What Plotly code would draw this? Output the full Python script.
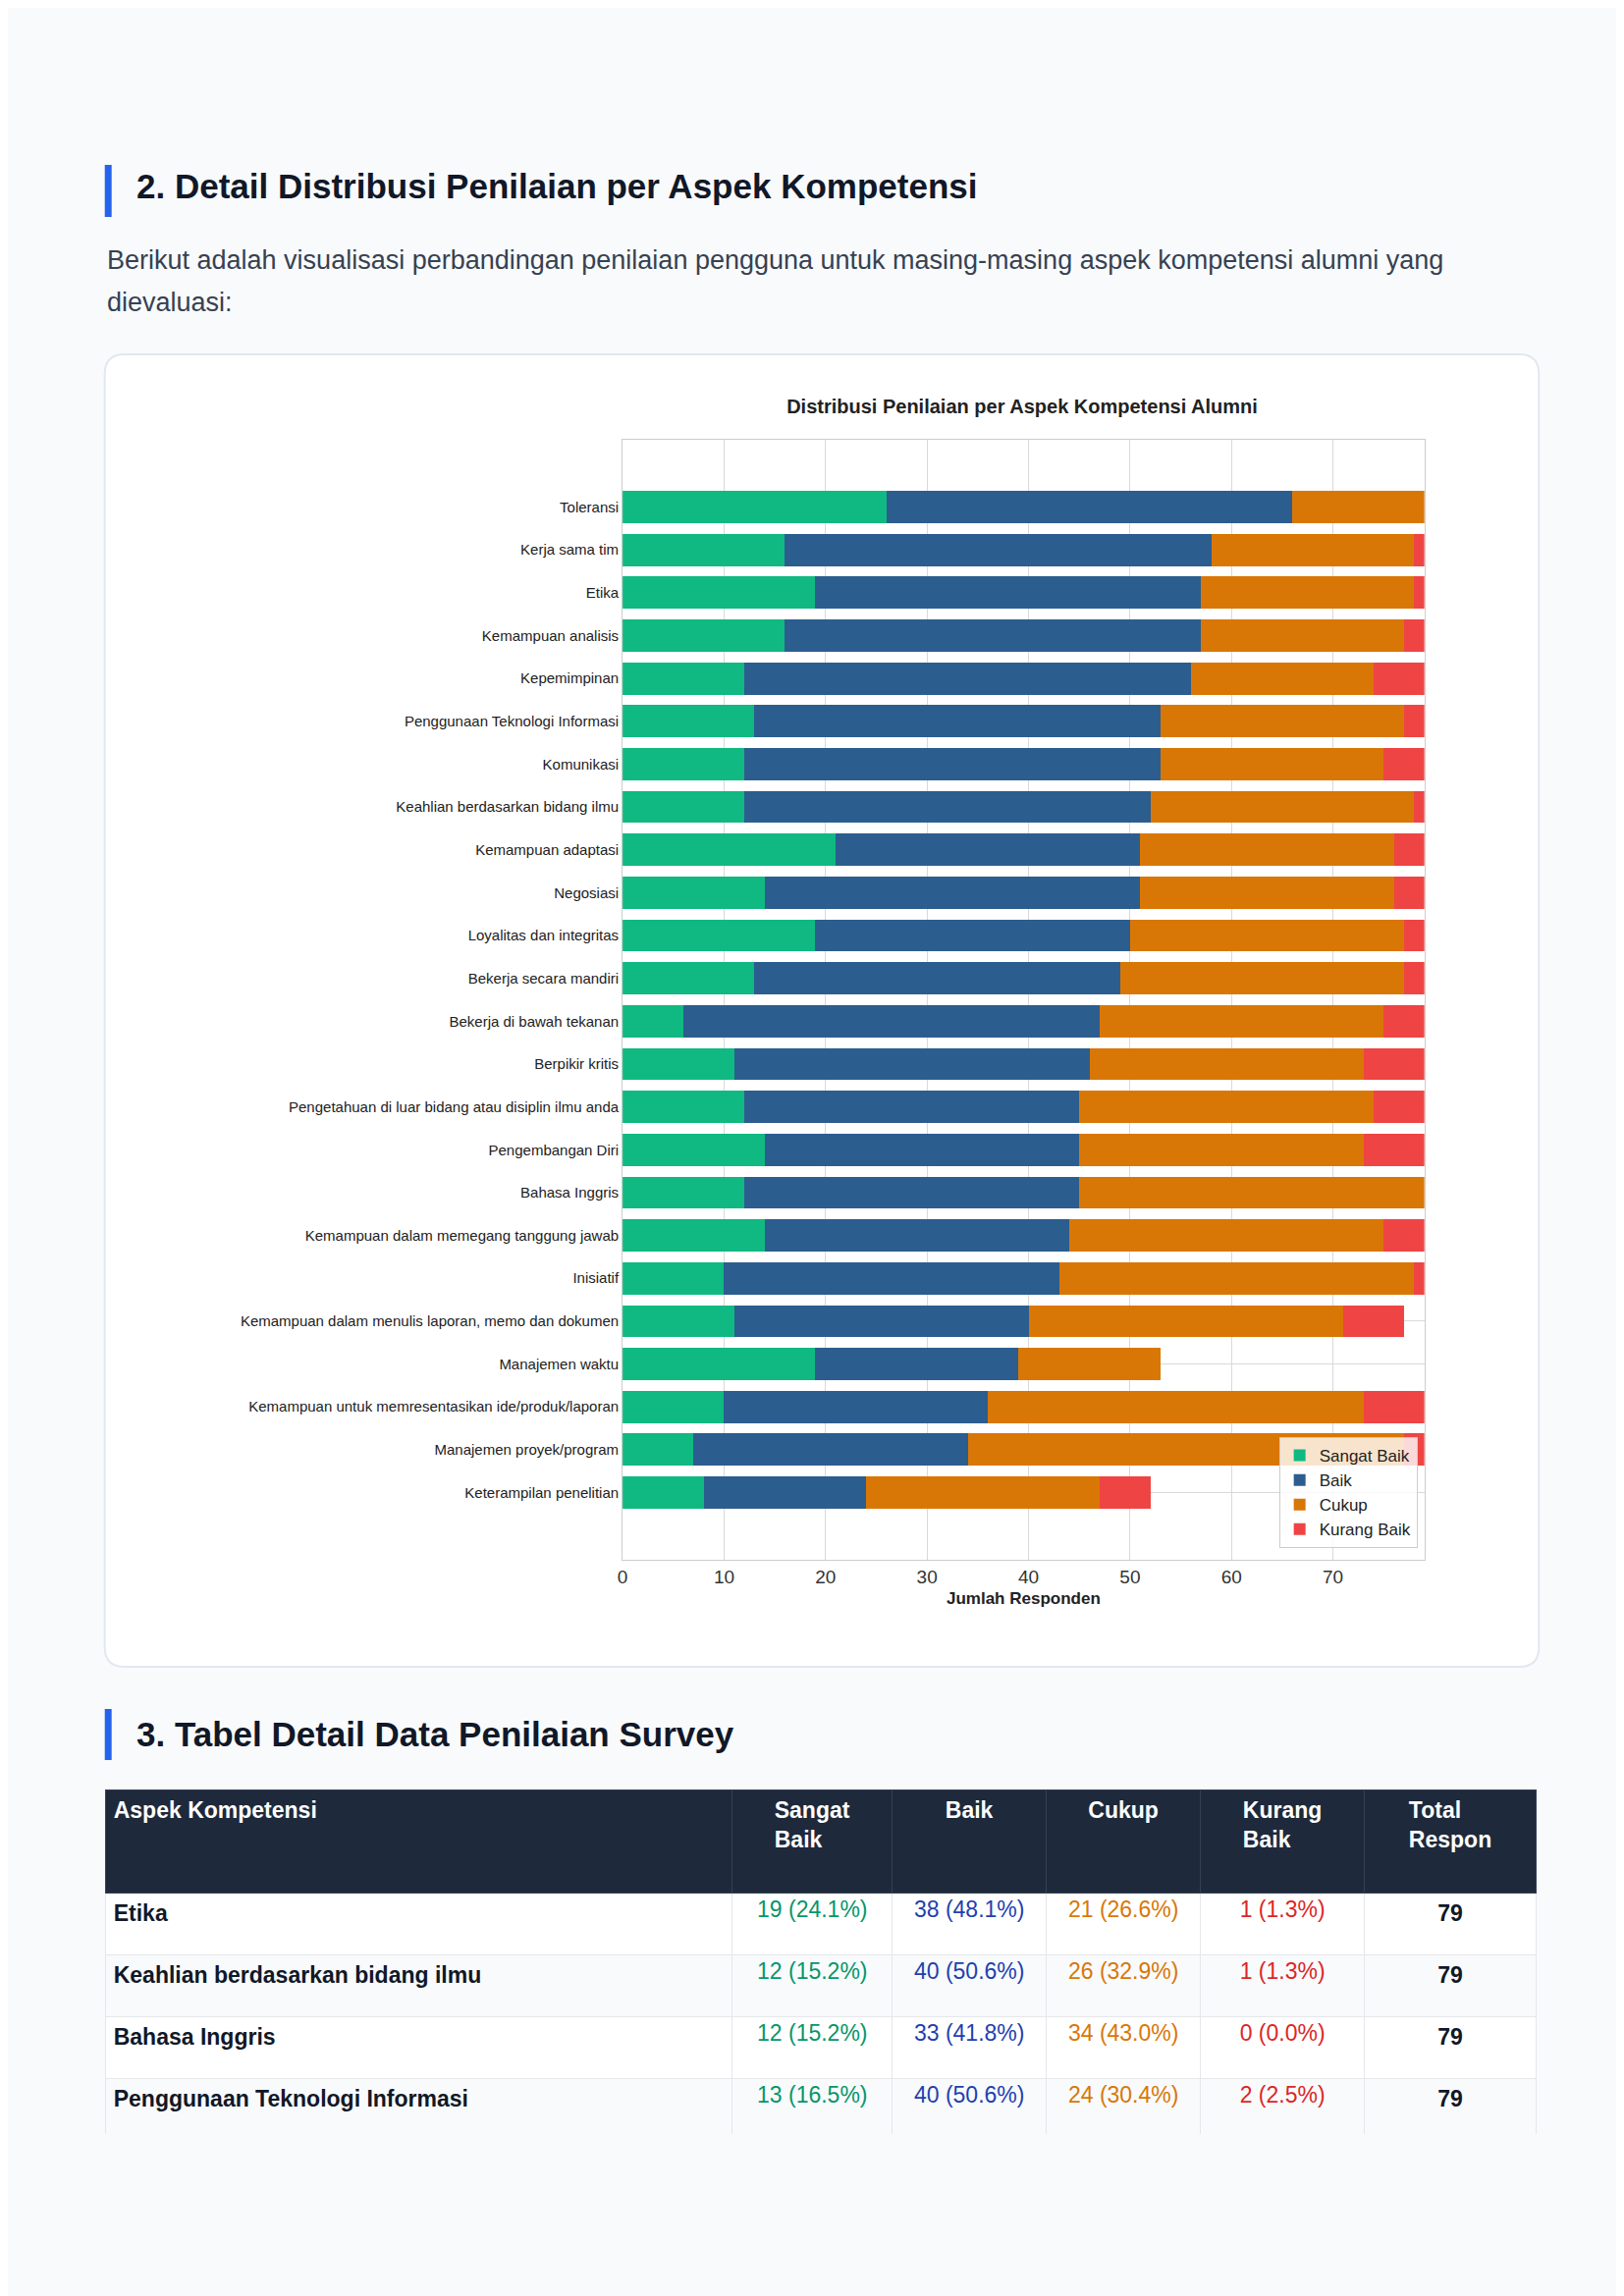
import plotly.graph_objects as go

W, H = 1654, 2339
categories = ["Toleransi", "Kerja sama tim", "Etika", "Kemampuan analisis", "Kepemimpinan",
    "Penggunaan Teknologi Informasi", "Komunikasi", "Keahlian berdasarkan bidang ilmu",
    "Kemampuan adaptasi", "Negosiasi", "Loyalitas dan integritas", "Bekerja secara mandiri",
    "Bekerja di bawah tekanan", "Berpikir kritis", "Pengetahuan di luar bidang atau disiplin ilmu anda",
    "Pengembangan Diri", "Bahasa Inggris", "Kemampuan dalam memegang tanggung jawab", "Inisiatif",
    "Kemampuan dalam menulis laporan, memo dan dokumen", "Manajemen waktu",
    "Kemampuan untuk memresentasikan ide/produk/laporan", "Manajemen proyek/program",
    "Keterampilan penelitian"]
sangat_baik = [26, 16, 19, 16, 12, 13, 12, 12, 21, 14, 19, 13, 6, 11, 12, 14, 12, 14, 10, 11, 19, 10, 7, 8]
baik = [40, 42, 38, 41, 44, 40, 41, 40, 30, 37, 31, 36, 41, 35, 33, 31, 33, 30, 33, 29, 20, 26, 27, 16]
cukup = [13, 20, 21, 20, 18, 24, 22, 26, 25, 25, 27, 28, 28, 27, 29, 28, 34, 31, 35, 31, 14, 37, 43, 23]
kurang = [0, 1, 1, 2, 5, 2, 4, 1, 3, 3, 2, 2, 4, 6, 5, 6, 0, 4, 1, 6, 0, 6, 2, 5]
series = [("Sangat Baik", sangat_baik, "#10b981"), ("Baik", baik, "#2c5d8f"),
          ("Cukup", cukup, "#d97706"), ("Kurang Baik", kurang, "#ef4444")]

table_aspek = ["Etika", "Keahlian berdasarkan bidang ilmu", "Bahasa Inggris", "Penggunaan Teknologi Informasi"]
table_sb = ["19 (24.1%)", "12 (15.2%)", "12 (15.2%)", "13 (16.5%)"]
table_b = ["38 (48.1%)", "40 (50.6%)", "33 (41.8%)", "40 (50.6%)"]
table_c = ["21 (26.6%)", "26 (32.9%)", "34 (43.0%)", "24 (30.4%)"]
table_k = ["1 (1.3%)", "1 (1.3%)", "0 (0.0%)", "2 (2.5%)"]
table_total = ["79", "79", "79", "79"]

def px(x): return x / W
def py(y): return 1 - y / H

fig = go.Figure()
for name, vals, col in series:
    fig.add_trace(go.Bar(y=categories, x=vals, name=name, orientation="h",
                         marker=dict(color=col, line=dict(width=0)), xaxis="x", yaxis="y"))

fig.add_trace(go.Table(
    domain=dict(x=[px(95), px(1557)], y=[py(2167), py(1815)]),
    columnwidth=[640, 164, 157, 158, 167, 176],
    header=dict(values=["<b>Aspek Kompetensi</b>", "<b>Sangat<br>Baik</b>", "<b>Baik</b>", "<b>Cukup</b>",
                        "<b>Kurang<br>Baik</b>", "<b>Total<br>Respon</b>"],
                fill_color="#1e293b", line_color="#334155", height=105,
                align=["left", "center", "center", "center", "center", "center"],
                font=dict(color="white", size=23, family="Liberation Sans")),
    cells=dict(values=[["<b>%s</b>" % a for a in table_aspek], table_sb, table_b, table_c, table_k,
                       ["<b>%s</b>" % t for t in table_total]],
               fill_color=[["white", "#f8fafc", "white", "#f8fafc"]] * 6,
               line_color="#e5e7eb", height=63,
               align=["left", "center", "center", "center", "center", "center"],
               font=dict(size=23, family="Liberation Sans",
                         color=["#111827", "#059669", "#1e40af", "#d97706", "#dc2626", "#111827"]))))

shapes = [
    dict(type="path", xref="paper", yref="paper",
         path="M %f %f L %f %f Q %f %f %f %f L %f %f Q %f %f %f %f L %f %f Q %f %f %f %f L %f %f Q %f %f %f %f Z" % (
             px(114), py(353), px(1539), py(353), px(1559), py(353), px(1559), py(373),
             px(1559), py(1670), px(1559), py(1690), px(1539), py(1690),
             px(114), py(1690), px(94), py(1690), px(94), py(1670),
             px(94), py(373), px(94), py(353), px(114), py(353)),
         fillcolor="white", line=dict(color="#e2e8f0", width=2), layer="below"),
    dict(type="rect", xref="paper", yref="paper", x0=px(94), x1=px(101), y0=py(213), y1=py(160),
         fillcolor="#2563eb", line=dict(width=0)),
    dict(type="rect", xref="paper", yref="paper", x0=px(94), x1=px(101), y0=py(1785), y1=py(1733),
         fillcolor="#2563eb", line=dict(width=0)),
]
ann = [
    dict(text="<b>2. Detail Distribusi Penilaian per Aspek Kompetensi</b>", x=px(124), y=py(182),
         font=dict(size=35, color="#111827")),
    dict(text="Berikut adalah visualisasi perbandingan penilaian pengguna untuk masing-masing aspek kompetensi alumni yang",
         x=px(94), y=py(257), font=dict(size=27, color="#374151")),
    dict(text="dievaluasi:", x=px(94), y=py(300), font=dict(size=27, color="#374151")),
    dict(text="<b>3. Tabel Detail Data Penilaian Survey</b>", x=px(124), y=py(1758),
         font=dict(size=35, color="#111827")),
]
for a in ann:
    a.update(xref="paper", yref="paper", xanchor="left", yanchor="middle", showarrow=False)
    a["font"]["family"] = "Liberation Sans"

fig.update_layout(
    width=W, height=H, margin=dict(l=0, r=0, t=0, b=0),
    paper_bgcolor="#f8fafc", plot_bgcolor="white", barmode="stack", bargap=0.25,
    font=dict(family="Liberation Sans", color="#333"),
    title=dict(text="<b>Distribusi Penilaian per Aspek Kompetensi Alumni</b>", x=px(1033), y=py(406),
               xanchor="center", yanchor="middle", font=dict(size=20, color="#222")),
    xaxis=dict(domain=[px(623), px(1442)], range=[0, 79], dtick=10, showgrid=True, gridcolor="#d9d9d9",
               showline=True, linecolor="#cccccc", mirror=True, zeroline=False, ticks="",
               tickfont=dict(size=19, color="#333"),
               title=dict(text="<b>Jumlah Responden</b>", font=dict(size=17, color="#222"), standoff=6),
               anchor="y"),
    yaxis=dict(domain=[py(1581), py(440)], categoryorder="array", categoryarray=categories,
               range=[23 + 1.57, -1.57], showgrid=True, gridcolor="#d9d9d9", showline=True,
               linecolor="#cccccc", mirror=True, ticks="", tickfont=dict(size=15, color="#222"),
               anchor="x"),
    legend=dict(x=px(1435), y=py(1569), xanchor="right", yanchor="bottom",
                bgcolor="rgba(255,255,255,0.8)", bordercolor="#cccccc", borderwidth=1,
                font=dict(size=17, color="#222"), traceorder="normal"),
    shapes=shapes, annotations=ann,
)
fig.write_html("out.html")
